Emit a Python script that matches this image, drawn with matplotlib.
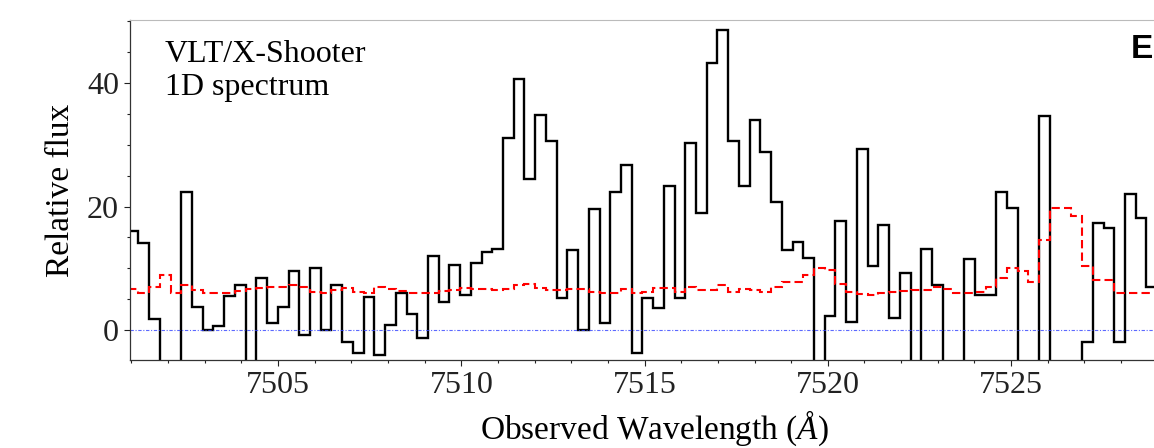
import numpy as np
import matplotlib
matplotlib.use("Agg")
from matplotlib import pyplot as plt
from matplotlib.ticker import MultipleLocator

# --- data ---
# regular wavelength grid of the 1D spectrum (bin edges)
wave_start = 7500.897   # first bin edge (Angstrom)
wave_step = 0.2926      # bin width (Angstrom)

# relative flux per bin (black histogram)
flux = [16.1, 14.1, 1.8, -8.0, -7.0, 22.4, 3.8, 0.0, 0.65, 5.5,
        7.3, -7.0, 8.4, 1.2, 3.8, 9.5, -0.8, 10.0, 0.0, 7.3,
        -1.9, -3.8, 5.4, -4.05, 0.8, 6.05, 2.6, -1.35, 12.0, 4.6,
        10.6, 5.7, 10.8, 12.6, 13.1, 31.1, 40.6, 24.4, 34.8, 30.7,
        5.2, 13.0, 0.0, 19.6, 1.2, 22.4, 26.7, -3.7, 5.2, 3.5,
        23.4, 5.2, 30.3, 19.0, 43.2, 48.7, 30.7, 23.4, 34.0, 28.9,
        20.7, 13.0, 14.3, 11.6, -8.0, 2.3, 17.7, 1.35, 29.3, 10.3,
        17.0, 1.9, 9.3, -8.0, 13.2, 7.3, -8.0, -8.0, 11.5, 5.7,
        5.7, 22.4, 19.8, -8.0, -8.0, 34.7, -8.0, -8.0, -8.0, -1.9,
        17.4, 16.5, -1.9, 22.0, 18.2, 6.9]

# noise spectrum per bin (red dashed)
noise = [6.6, 6.05, 7.0, 8.9, 6.05, 7.3, 6.5, 6.0, 6.0, 6.0,
         6.4, 6.6, 6.8, 7.0, 7.0, 7.3, 7.0, 6.2, 6.0, 6.5,
         6.8, 6.2, 6.0, 7.0, 6.6, 6.3, 6.0, 6.0, 6.0, 6.3,
         6.5, 6.8, 6.6, 6.6, 6.5, 6.6, 7.3, 7.4, 6.8, 6.5,
         6.5, 6.7, 6.6, 6.1, 6.0, 6.0, 6.7, 6.0, 6.2, 6.85,
         6.85, 6.2, 7.0, 6.5, 6.5, 7.3, 6.2, 6.7, 6.5, 6.2,
         7.0, 7.8, 7.8, 8.9, 10.0, 9.8, 7.5, 6.2, 5.9, 5.7,
         6.0, 6.2, 6.4, 6.5, 6.5, 7.0, 6.6, 6.0, 6.0, 6.1,
         7.0, 8.5, 10.0, 9.5, 7.7, 14.6, 19.7, 19.7, 18.4, 10.4,
         8.1, 8.1, 6.05, 6.0, 6.0, 6.0]

edges = wave_start + wave_step * np.arange(len(flux) + 1)

# --- style ---
plt.rcParams['font.family'] = ['Liberation Serif', 'DejaVu Serif']
plt.rcParams['mathtext.fontset'] = 'custom'
plt.rcParams['mathtext.rm'] = 'Liberation Serif'
plt.rcParams['mathtext.it'] = 'Liberation Serif:italic'

W, H = 1154, 448
fig = plt.figure(figsize=(W / 100, H / 100), dpi=100)

# axes run past the right edge of the picture (the reference is cropped there)
xmin, xmax = 7500.96, 7529.6
px_per_A = 36.65
ax = fig.add_axes([130 / W, 88 / H, (xmax - xmin) * px_per_A / W, 340 / H])

ax.stairs(flux, edges, color='black', lw=1.7, baseline=None)
ax.stairs(noise, edges, color='red', lw=1.5, linestyle=(0, (4, 2)), baseline=None)
ax.axhline(0, color='#3344ff', lw=0.8, linestyle=(0, (3, 1.5, 1, 1.5)), alpha=0.8)

ax.set_xlim(xmin, xmax)
ax.set_ylim(-4.86, 50.24)

ax.xaxis.set_major_locator(MultipleLocator(5))
ax.xaxis.set_minor_locator(MultipleLocator(1))
ax.yaxis.set_major_locator(MultipleLocator(20))
ax.yaxis.set_minor_locator(MultipleLocator(5))
ax.tick_params(which='both', direction='out', top=False, right=False,
               labelsize=23, width=0.8, colors='#222222')
ax.tick_params(which='major', length=4, pad=4)
ax.tick_params(which='minor', length=2.2)

for s in ['left', 'bottom']:
    ax.spines[s].set_color('#333333')
    ax.spines[s].set_linewidth(0.9)
ax.spines['top'].set_color('#bbbbbb')
ax.spines['top'].set_linewidth(0.8)

ax.set_xlabel(r'Observed Wavelength ($\mathit{Å}$)', fontsize=24, labelpad=6)
ax.set_ylabel('Relative flux', fontsize=24, labelpad=8)

# annotations, placed in figure pixel coordinates
def fpx(x, y):
    return x / W, 1 - y / H

fig.text(*fpx(165, 62), 'VLT/X-Shooter', fontsize=23, va='baseline', ha='left')
fig.text(*fpx(165, 95), '1D spectrum', fontsize=23, va='baseline', ha='left')
fig.text(*fpx(1131, 58), 'E', fontsize=24, va='baseline', ha='left',
         family='Liberation Sans', fontweight='bold')

fig.savefig('out.png', dpi=100)
